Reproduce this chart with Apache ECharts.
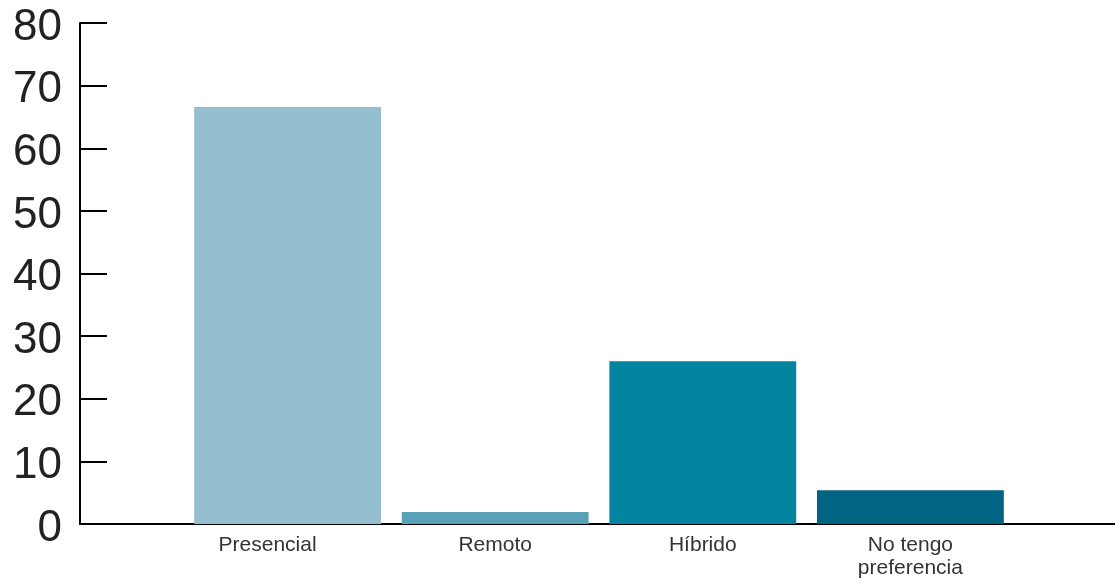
<!DOCTYPE html>
<html>
<head>
<meta charset="utf-8">
<script src="https://cdn.jsdelivr.net/npm/echarts@6/dist/echarts.min.js"></script>
<style>
html,body{margin:0;padding:0;background:#fff;}
#chart{width:1115px;height:584px;}
</style>
</head>
<body>
<div id="chart"></div>
<script>
// Data
const categories = ['', 'Presencial', 'Remoto', 'Híbrido', 'No tengo\npreferencia', ''];
const values = ['-', 66.6, 1.9, 26.0, 5.4, '-'];
const barColors = ['#ffffff', '#95bfcf', '#59a1b8', '#03849f', '#006482', '#ffffff'];
const yMin = 0, yMax = 80, yInterval = 10;

const FONT = 'Liberation Sans, Arial, sans-serif';
const chart = echarts.init(document.getElementById('chart'));
chart.setOption({
  animation: false,
  grid: { left: 80, width: 1038, top: 23, bottom: 60, containLabel: false, outerBoundsMode: 'none' },
  xAxis: {
    type: 'category',
    data: categories,
    boundaryGap: false,
    axisLine: { show: true, lineStyle: { color: '#000', width: 2 } },
    axisTick: { show: false },
    axisLabel: {
      color: '#333', fontSize: 21, fontFamily: FONT,
      lineHeight: 23, margin: 10, interval: 0,
      formatter: function (v) { return v === 'Presencial' ? '{shift|' + v + '}' : v; },
      rich: {
        shift: { color: '#333', fontSize: 21, fontFamily: FONT, lineHeight: 23, padding: [0, 40, 0, 0] }
      }
    },
    splitLine: { show: false }
  },
  yAxis: {
    type: 'value',
    min: yMin, max: yMax, interval: yInterval,
    axisLine: { show: true, lineStyle: { color: '#000', width: 2 } },
    axisTick: { show: true, inside: true, length: 27, lineStyle: { color: '#000', width: 2 } },
    axisLabel: {
      margin: 18,
      formatter: function (v) { return '{n|' + v + '}'; },
      rich: {
        n: { color: '#222', fontSize: 44, fontFamily: FONT, lineHeight: 44, padding: [9, 0, 0, 0] }
      }
    },
    splitLine: { show: false }
  },
  series: [{
    type: 'bar',
    data: values.map((v, i) => ({ value: v, itemStyle: { color: barColors[i] } })),
    barWidth: '90%'
  }]
});
</script>
</body>
</html>
